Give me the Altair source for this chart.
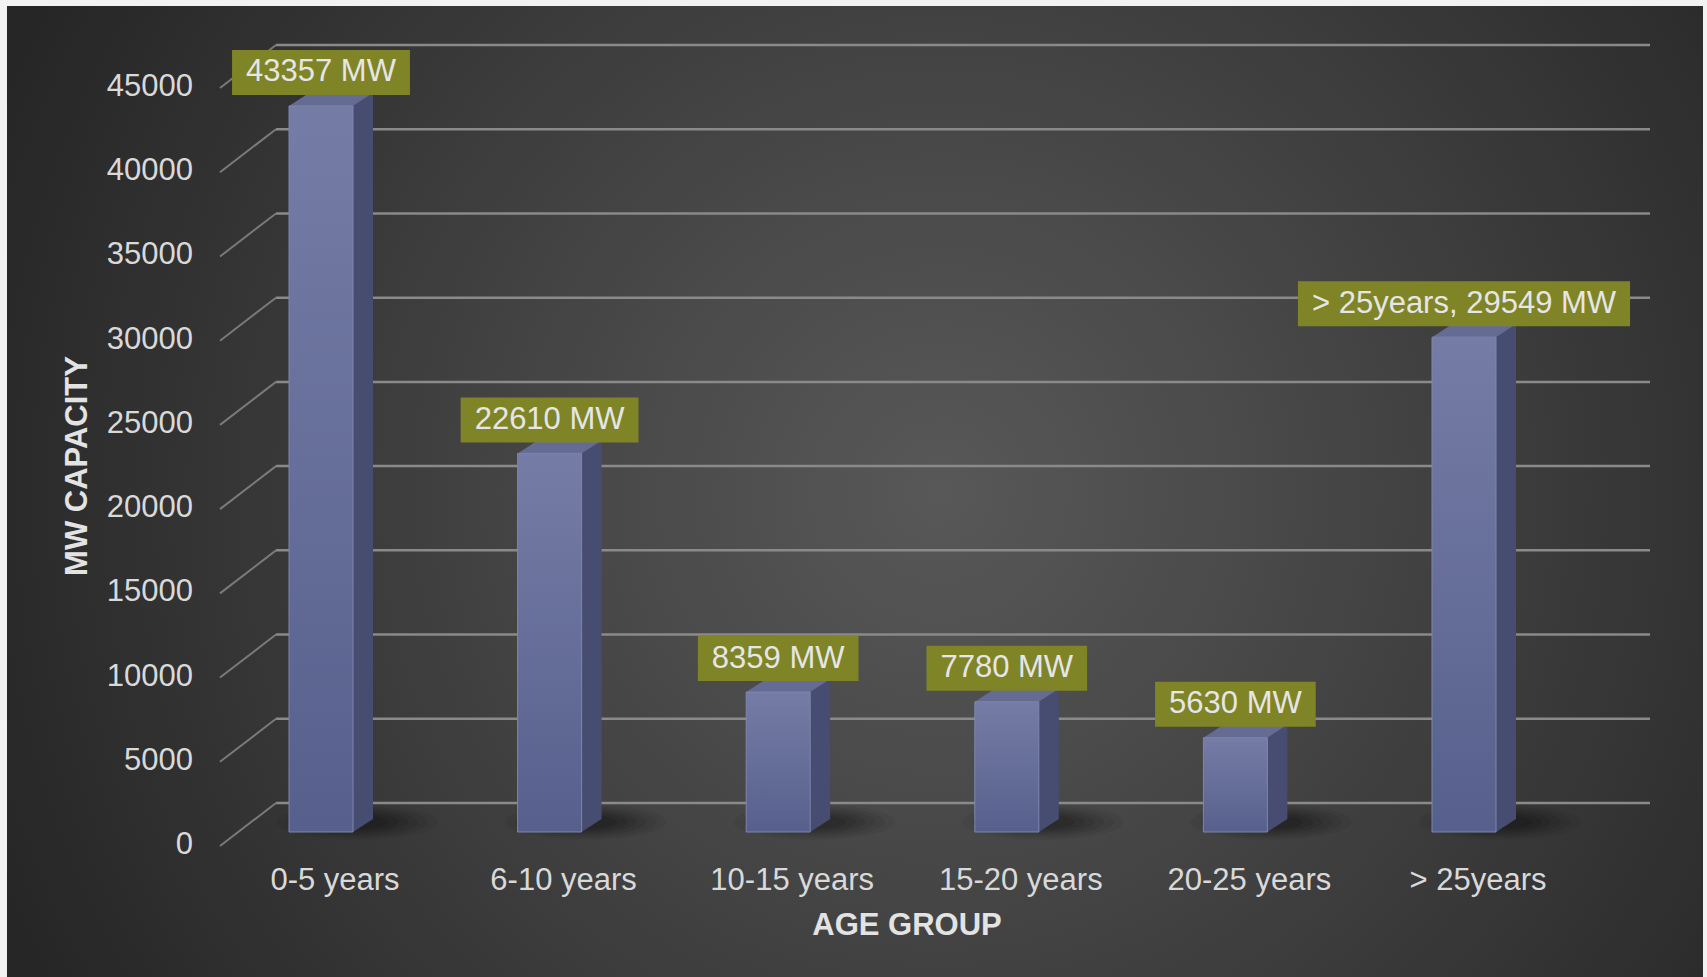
import altair as alt
import pandas as pd

# ---------------- data ----------------
categories = ["0-5 years", "6-10 years", "10-15 years", "15-20 years", "20-25 years", "> 25years"]
capacity_mw = [43357, 22610, 8359, 7780, 5630, 29549]
data_labels = ["43357 MW", "22610 MW", "8359 MW", "7780 MW", "5630 MW", "> 25years, 29549 MW"]
y_ticks = [0, 5000, 10000, 15000, 20000, 25000, 30000, 35000, 40000, 45000]
x_title = "AGE GROUP"
y_title = "MW CAPACITY"

# ---------------- layout constants ----------------
W, H = 1707, 977
PX0, STEP = 321.0, 228.6          # pixel centre of first bar, spacing between bars
BASE_PY, K = 832.0, 0.016745      # pixel of value 0 (front), pixels per MW
BACK_OFF, K_BACK = 29.0, 0.016844 # back wall offset (px) and its scale
FACE_W = 64.0                     # front face width px
DEPTH_X, DEPTH_Y = 20.0, 13.0     # 3-D depth px
FONT = "Liberation Sans, Arial, sans-serif"
FS = 31
TXT = "#d9d9d9"

X_DOM = [-PX0 / STEP, (W - PX0) / STEP]
Y_DOM = [(BASE_PY - H) / K, BASE_PY / K]
xs = alt.Scale(domain=X_DOM, nice=False, zero=False)
ys = alt.Scale(domain=Y_DOM, nice=False, zero=False)


def ux(px):
    return px / STEP


def uv(px):
    return px / K


def Xq(f):
    return alt.X(f, type="quantitative", scale=xs, axis=None)


def Yq(f):
    return alt.Y(f, type="quantitative", scale=ys, axis=None)


# Arial / Liberation Sans advance widths (per em)
CW = {d: 0.556 for d in "0123456789"}
CW.update({" ": 0.278, "M": 0.833, "W": 0.944, ">": 0.584, "y": 0.5, "e": 0.556,
           "a": 0.556, "r": 0.333, "s": 0.5, ",": 0.278})


def text_w(s):
    return sum(CW.get(c, 0.556) for c in s) * FS


# ---------------- tables ----------------
bars = pd.DataFrame({"i": range(len(categories)), "cat": categories, "cap": capacity_mw,
                     "lab": data_labels})
bars["xl"] = bars["i"] - ux(FACE_W / 2)
bars["xr"] = bars["i"] + ux(FACE_W / 2)
bars["zero"] = 0.0
bars["xlab"] = bars["i"] + ux(14)
half = bars["lab"].map(lambda s: (text_w(s) + 28) / 2)
bars["bx1"] = bars["i"] - half / STEP
bars["bx2"] = bars["i"] + half / STEP
bars["by1"] = bars["cap"] + uv(11)
bars["by2"] = bars["cap"] + uv(56)
bars["ty"] = bars["cap"] + uv(33.5)
bars["sx"] = bars["i"] + ux(36)
bars["sy"] = uv(10)

side_rows, top_rows = [], []
for _, r in bars.iterrows():
    side_rows.append({"bar": r["i"], "x": r["xr"], "y": r["cap"], "y2": 0.0})
    side_rows.append({"bar": r["i"], "x": r["xr"] + ux(DEPTH_X), "y": r["cap"] + uv(DEPTH_Y),
                      "y2": uv(DEPTH_Y)})
    top_rows.append({"bar": r["i"], "y": r["cap"], "x": r["xl"], "x2": r["xr"]})
    top_rows.append({"bar": r["i"], "y": r["cap"] + uv(DEPTH_Y), "x": r["xl"] + ux(DEPTH_X),
                     "x2": r["xr"] + ux(DEPTH_X)})
side = pd.DataFrame(side_rows)
top = pd.DataFrame(top_rows)

ticks = pd.DataFrame({"t": y_ticks})
ticks["back"] = (BACK_OFF + ticks["t"] * K_BACK) / K
ticks["front"] = ticks["back"] - uv(43)
ticks["lab_y"] = ticks["back"] - uv(42)
ticks["label"] = ticks["t"].astype(str)
ticks["xb"] = ux(276 - PX0)
ticks["xe"] = ux(1650 - PX0)
ticks["xf"] = ux(220 - PX0)

one = pd.DataFrame({"a": [0]})

# ---------------- layers ----------------
bg = alt.Chart(one).mark_rect(
    color=alt.RadialGradient(
        gradient="radial",
        stops=[alt.GradientStop(color="#585858", offset=0),
               alt.GradientStop(color="#4a4a4a", offset=0.3),
               alt.GradientStop(color="#262626", offset=1)],
        x1=0.55, y1=0.5, r1=0, x2=0.55, y2=0.5, r2=0.6)
).encode(x=alt.value(7), x2=alt.value(1703), y=alt.value(6), y2=alt.value(977))

grid = alt.Chart(ticks).mark_rule(color="#8a8a8a", strokeWidth=2.5).encode(
    x=Xq("xb"), x2="xe", y=Yq("back"))
diag = alt.Chart(ticks).mark_rule(color="#7a7a7a", strokeWidth=2).encode(
    x=Xq("xb"), x2="xf", y=Yq("back"), y2="front")
ylabels = alt.Chart(ticks).mark_text(
    align="right", baseline="middle", font=FONT, fontSize=FS, color=TXT
).encode(x=alt.value(193), y=Yq("lab_y"), text="label:N")

ellipse = "M-1,0 A1,0.22,0,1,0,1,0 A1,0.22,0,1,0,-1,0 Z"
shadows = [
    alt.Chart(bars).mark_point(shape=ellipse, filled=True, color="#000000", opacity=op,
                               size=sz, strokeWidth=0).encode(x=Xq("sx"), y=Yq("sy"))
    for sz, op in [(26000, 0.05), (20000, 0.06), (15000, 0.07), (10500, 0.08),
                   (7000, 0.09), (4000, 0.1)]
]

front = alt.Chart(bars).mark_rect(
    color=alt.LinearGradient(
        gradient="linear",
        stops=[alt.GradientStop(color="#757da6", offset=0),
               alt.GradientStop(color="#57608c", offset=1)],
        x1=0, y1=0, x2=0, y2=1),
    stroke="#7d86b0", strokeWidth=1
).encode(x=Xq("xl"), x2="xr", y=Yq("cap"), y2="zero")

side_face = alt.Chart(side).mark_area(color="#464d70", interpolate="linear").encode(
    x=Xq("x"), y=Yq("y"), y2="y2", detail="bar:N")
top_face = alt.Chart(top).mark_area(color="#646c94", orient="horizontal",
                                    interpolate="linear").encode(
    y=Yq("y"), x=Xq("x"), x2="x2", detail="bar:N")

boxes = alt.Chart(bars).mark_rect(color="#7f8426").encode(
    x=Xq("bx1"), x2="bx2", y=Yq("by1"), y2="by2")
box_text = alt.Chart(bars).mark_text(
    align="center", baseline="middle", font=FONT, fontSize=FS, color="#e6e6e6"
).encode(x=Xq("i"), y=Yq("ty"), text="lab:N")

xlabels = alt.Chart(bars).mark_text(
    align="center", baseline="middle", font=FONT, fontSize=FS, color=TXT
).encode(x=Xq("xlab"), y=alt.value(881), text="cat:N")

xt = alt.Chart(pd.DataFrame({"t": [x_title]})).mark_text(
    align="center", baseline="middle", font=FONT, fontSize=FS, fontWeight="bold",
    color="#e3e3e3").encode(x=alt.value(907), y=alt.value(926), text="t:N")
yt = alt.Chart(pd.DataFrame({"t": [y_title]})).mark_text(
    align="center", baseline="middle", font=FONT, fontSize=FS, fontWeight="bold",
    color="#e3e3e3", angle=270).encode(x=alt.value(78), y=alt.value(466), text="t:N")

chart = alt.layer(
    bg, grid, diag, ylabels, *shadows, side_face, top_face, front, boxes, box_text,
    xlabels, xt, yt
).properties(
    width=W, height=H, padding=0, autosize="none", background="#f2f2f2"
).configure_view(stroke=None)

chart.save("out.html", embed_options={"renderer": "svg", "actions": False})
